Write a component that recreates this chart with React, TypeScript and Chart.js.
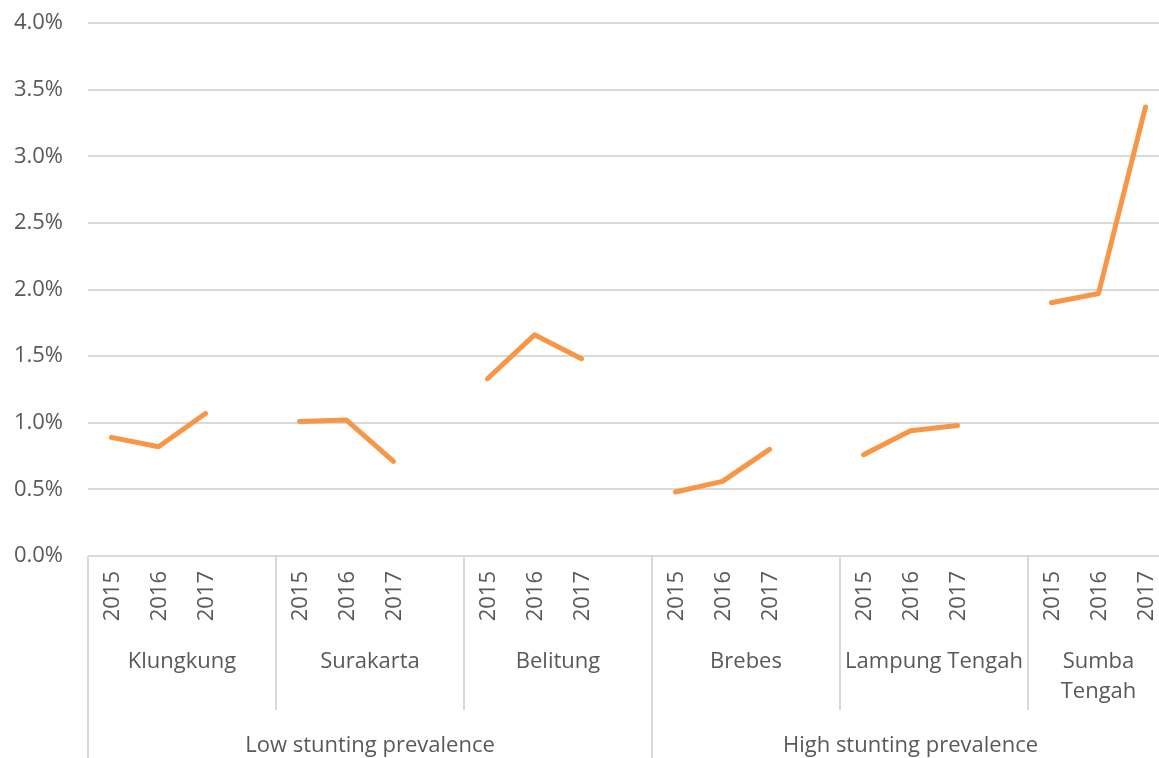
import React, { useEffect, useRef } from "react";
import { Chart, registerables } from "chart.js";

Chart.register(...registerables);

const years = ["2015", "2016", "2017"];
const districts = ["Klungkung", "Surakarta", "Belitung", "Brebes", "Lampung Tengah", "Sumba Tengah"];
const groups = ["Low stunting prevalence", "High stunting prevalence"];
const districtGroup = [0, 0, 0, 1, 1, 1];

const klungkung = [0.89, 0.82, 1.07];
const surakarta = [1.01, 1.02, 0.71];
const belitung = [1.33, 1.66, 1.48];
const brebes = [0.48, 0.56, 0.8];
const lampungTengah = [0.76, 0.94, 0.98];
const sumbaTengah = [1.9, 1.97, 3.37];

const seriesByDistrict = [klungkung, surakarta, belitung, brebes, lampungTengah, sumbaTengah];

const yTicksMin = 0;
const yTicksMax = 4;
const yStep = 0.5;

const FONT = "'Open Sans', 'Noto Sans', sans-serif";
const FONT_SIZE = 22;
const TEXT = "#595959";
const GRID = "#d9d9d9";

// Build flat category list (with blank separators between districts)
const labels: string[] = [];
const values: (number | null)[] = [];
districts.forEach((d, di) => {
  years.forEach((y, yi) => {
    labels.push(y);
    values.push(seriesByDistrict[di][yi]);
  });
  if (di < districts.length - 1) {
    labels.push("");
    values.push(null);
  }
});

const CANVAS_W = 1169;
const CANVAS_H = 800;
const AXIS_Y = 556;

const multiLevelPlugin = {
  id: "multiLevel",
  afterDraw(chart: any) {
    const ctx = chart.ctx;
    const x = chart.scales.x;
    const area = chart.chartArea;
    const slot = x.getPixelForValue(1) - x.getPixelForValue(0);
    const bottom = area.bottom;
    ctx.save();
    ctx.strokeStyle = GRID;
    ctx.lineWidth = 2;
    ctx.beginPath();
    ctx.moveTo(area.left, bottom);
    ctx.lineTo(CANVAS_W, bottom);
    ctx.stroke();

    ctx.fillStyle = TEXT;
    ctx.font = `${FONT_SIZE}px ${FONT}`;
    labels.forEach((lab, i) => {
      if (!lab) return;
      const px = x.getPixelForValue(i);
      ctx.save();
      ctx.translate(px + 1, bottom + 15);
      ctx.rotate(-Math.PI / 2);
      ctx.textAlign = "right";
      ctx.textBaseline = "middle";
      ctx.fillText(lab, 0, 0);
      ctx.restore();
    });

    const groupBounds: { left: number; right: number }[] = [];
    districts.forEach((d, di) => {
      const startIdx = di * 4;
      const left = x.getPixelForValue(startIdx) - slot / 2;
      const span = di < districts.length - 1 ? 4 : 3;
      const right = left + span * slot;
      const g = districtGroup[di];
      if (!groupBounds[g]) groupBounds[g] = { left, right };
      else groupBounds[g].right = right;
      const isGroupStart = di === 0 || districtGroup[di - 1] !== g;
      ctx.strokeStyle = GRID;
      ctx.lineWidth = 2;
      ctx.beginPath();
      ctx.moveTo(Math.round(left), bottom);
      ctx.lineTo(Math.round(left), isGroupStart ? CANVAS_H : bottom + 154);
      ctx.stroke();

      const cx = (left + right) / 2;
      const avail = right - left - 10;
      let lines = [d];
      if (ctx.measureText(d).width > avail && d.includes(" ")) {
        lines = d.split(" ");
      }
      ctx.textAlign = "center";
      ctx.textBaseline = "middle";
      lines.forEach((ln, li) => {
        ctx.fillText(ln, cx, bottom + 106 + li * 30);
      });
    });

    groups.forEach((g, gi) => {
      const b = groupBounds[gi];
      if (!b) return;
      ctx.textAlign = "center";
      ctx.textBaseline = "middle";
      ctx.fillText(g, (b.left + b.right) / 2, bottom + 190);
    });
    ctx.restore();
  },
};

export default function App() {
  const ref = useRef<HTMLCanvasElement | null>(null);
  useEffect(() => {
    if (!ref.current) return;
    const chart = new Chart(ref.current, {
      type: "line",
      data: {
        labels,
        datasets: [
          {
            data: values,
            borderColor: "#F79646",
            backgroundColor: "#F79646",
            borderWidth: 5,
            pointRadius: 0,
            pointHoverRadius: 0,
            spanGaps: false,
            tension: 0,
            borderCapStyle: "round",
            borderJoinStyle: "round",
          },
        ],
      },
      options: {
        responsive: false,
        animation: false,
        devicePixelRatio: 1,
        layout: { padding: { top: 23, left: 0, right: 0, bottom: 0 } },
        plugins: { legend: { display: false }, tooltip: { enabled: false } },
        scales: {
          x: {
            type: "category",
            offset: true,
            grid: { display: false },
            border: { display: false },
            ticks: { display: false },
            afterFit: (scale: any) => {
              scale.height = CANVAS_H - AXIS_Y;
              scale.paddingLeft = 0;
              scale.paddingRight = 0;
            },
          },
          y: {
            min: yTicksMin,
            max: yTicksMax,
            ticks: {
              stepSize: yStep,
              color: TEXT,
              font: { family: FONT, size: FONT_SIZE },
              padding: 25,
              callback: (v: any) => Number(v).toFixed(1) + "%",
            },
            grid: { color: GRID, lineWidth: 2, drawTicks: false },
            border: { display: false },
            afterFit: (scale: any) => {
              scale.width = 88;
              scale.paddingTop = 0;
              scale.paddingBottom = 0;
            },
          },
        },
      },
      plugins: [multiLevelPlugin],
    });
    return () => chart.destroy();
  }, []);
  return (
    <div
      style={{
        position: "fixed",
        left: 0,
        top: 0,
        width: 1159,
        height: 758,
        overflow: "hidden",
        background: "#fff",
      }}
    >
      <canvas
        ref={ref}
        width={CANVAS_W}
        height={CANVAS_H}
        style={{ width: CANVAS_W, height: CANVAS_H, display: "block" }}
      />
    </div>
  );
}
